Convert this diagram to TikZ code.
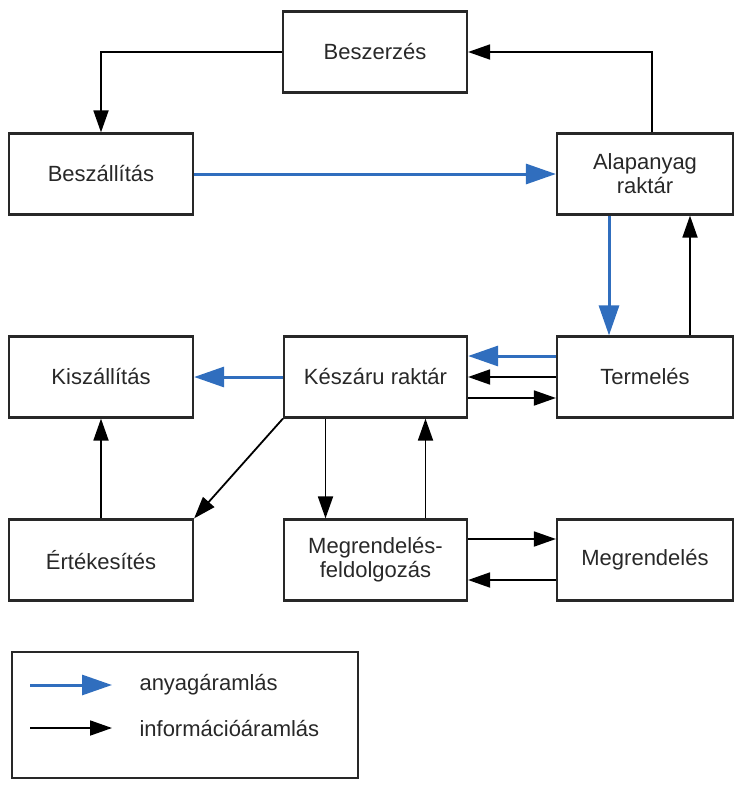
\documentclass[tikz,border=0pt]{standalone}
\usepackage{fontspec}
\setmainfont{Liberation Sans}
\usetikzlibrary{arrows.meta}
\definecolor{flowblue}{RGB}{48,110,190}
\definecolor{ink}{RGB}{40,40,40}
\begin{document}
\begin{tikzpicture}[x=1pt,y=-1pt,
  box/.style={draw=ink,line width=2.2pt,rectangle,minimum width=184pt,minimum height=81pt,
    align=center,font=\fontsize{22}{24}\selectfont,text=ink,inner sep=0pt},
  info/.style={draw=black,line width=1.8pt,-{Triangle[length=22pt,width=15pt]}},
  mat/.style={draw=flowblue,line width=3pt,-{Triangle[length=30pt,width=20pt]},color=flowblue},
  lbl/.style={anchor=west,font=\fontsize{22}{24}\selectfont,text=ink}]
\useasboundingbox (0,0) rectangle (735,785);
% row 1
\node[box] (besz) at (375,52) {Beszerzés};
% row 2
\node[box] (beszall) at (101,174) {Beszállítás};
\node[box,minimum width=176pt] (alap) at (645,174) {Alapanyag\\raktár};
% row 3
\node[box] (kisz) at (101,377) {Kiszállítás};
\node[box,minimum width=183pt] (kesz) at (375.5,377) {Készáru raktár};
\node[box,minimum width=176pt] (term) at (645,377) {Termelés};
% row 4
\node[box] (ert) at (101,560) {Értékesítés};
\node[box,minimum width=183pt] (mfeld) at (375.5,560) {Megrendelés-\\feldolgozás};
\node[box,minimum width=176pt] (megr) at (645,560) {Megrendelés};
% connectors
\draw[info] (besz.west) -| (beszall.north);
\draw[info] ([xshift=7pt]alap.north) |- (besz.east);
\draw[mat] (beszall.east) -- (alap.west);
\draw[mat] ([xshift=-36pt]alap.south) -- ([xshift=-36pt]term.north);
\draw[info] ([xshift=45pt]term.north) -- ([xshift=45pt]alap.south);
\draw[mat] ([yshift=21pt]term.west) -- ([yshift=21pt]kesz.east);
\draw[info] (term.west) -- (kesz.east);
\draw[info] ([yshift=-21pt]kesz.east) -- ([yshift=-21pt]term.west);
\draw[mat] (kesz.west) -- (kisz.east);
\draw[info] (ert.north) -- (kisz.south);
\draw[info] (kesz.south west) -- (ert.north east);
\draw[info] ([xshift=-50pt]kesz.south) -- ([xshift=-50pt]mfeld.north);
\draw[info] ([xshift=50pt]mfeld.north) -- ([xshift=50pt]kesz.south);
\draw[info] ([yshift=21pt]mfeld.east) -- ([yshift=21pt]megr.west);
\draw[info] ([yshift=-20pt]megr.west) -- ([yshift=-20pt]mfeld.east);
% legend
\node[draw=ink,line width=2.2pt,rectangle,minimum width=346pt,minimum height=126pt,inner sep=0pt] (legend) at (185,715) {};
\coordinate (la1) at (30,685);
\coordinate (la2) at (112,685);
\coordinate (lb1) at (30,728);
\coordinate (lb2) at (112,728);
\draw[mat] (la1) -- (la2);
\draw[info] (lb1) -- (lb2);
\node[lbl] (lt1) at (136,685) {anyagáramlás};
\node[lbl] (lt2) at (136,728) {információáramlás};
\end{tikzpicture}
\end{document}
